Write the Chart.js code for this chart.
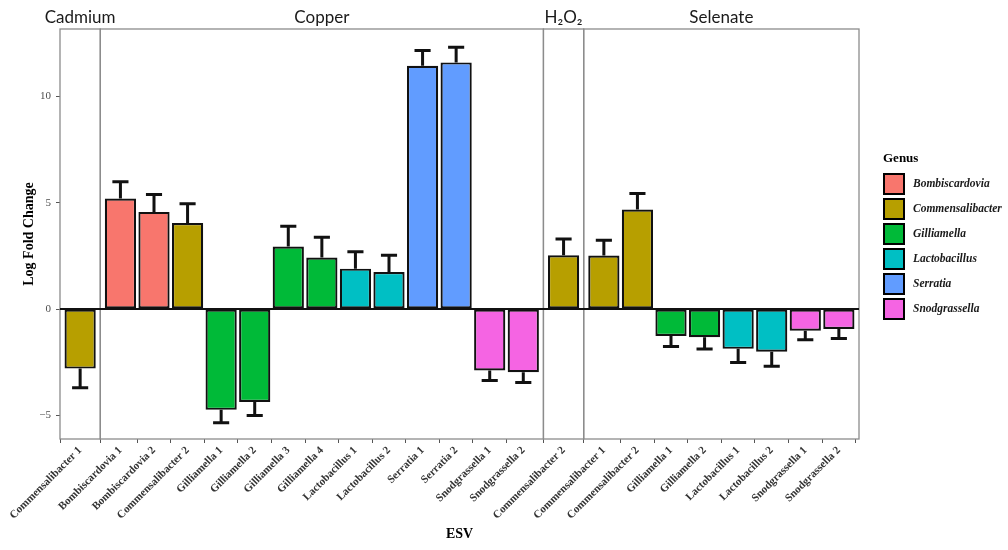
<!DOCTYPE html>
<html>
<head>
<meta charset="utf-8">
<script src="https://cdn.jsdelivr.net/npm/chart.js@4.4.1/dist/chart.umd.min.js"></script>
<style>
  html, body { margin: 0; padding: 0; background: #ffffff; }
  #wrap { width: 1008px; height: 550px; position: relative; }
</style>
</head>
<body>
<div id="wrap"><canvas id="chart"></canvas></div>
<script>
// Log fold change per ESV, grouped by treatment, with standard errors
const treatments = ['Cadmium', 'Copper', 'H\u2082O\u2082', 'Selenate'];

const cadmiumESV = ['Commensalibacter 1'];
const cadmiumLFC = [-2.80];
const cadmiumSE  = [0.90];

const copperESV = ['Bombiscardovia 1', 'Bombiscardovia 2', 'Commensalibacter 2',
  'Gilliamella 1', 'Gilliamella 2', 'Gilliamella 3', 'Gilliamella 4',
  'Lactobacillus 1', 'Lactobacillus 2', 'Serratia 1', 'Serratia 2',
  'Snodgrassella 1', 'Snodgrassella 2'];
const copperLFC = [5.20, 4.57, 4.05, -4.74, -4.37, 2.94, 2.42, 1.90, 1.74, 11.44, 11.60, -2.89, -2.97];
const copperSE  = [0.79, 0.82, 0.90, 0.61, 0.64, 0.96, 0.96, 0.80, 0.79, 0.72, 0.71, 0.47, 0.48];

const h2o2ESV = ['Commensalibacter 2'];
const h2o2LFC = [2.53];
const h2o2SE  = [0.77];

const selenateESV = ['Commensalibacter 1', 'Commensalibacter 2', 'Gilliamella 1', 'Gilliamella 2',
  'Lactobacillus 1', 'Lactobacillus 2', 'Snodgrassella 1', 'Snodgrassella 2'];
const selenateLFC = [2.52, 4.68, -1.27, -1.32, -1.87, -2.01, -1.02, -0.94];
const selenateSE  = [0.72, 0.76, 0.49, 0.56, 0.64, 0.68, 0.42, 0.44];

const genera = ['Bombiscardovia', 'Commensalibacter', 'Gilliamella', 'Lactobacillus', 'Serratia', 'Snodgrassella'];
const genusColors = ['#F8766D', '#B79F00', '#00BA38', '#00BFC4', '#619CFF', '#F564E3'];
const yTicks = [-5, 0, 5, 10];

// Panels laid side by side; each is as wide as its ESV count plus 0.6 on each side
const PANEL_PAD = 0.6;
const groups = [
  { esv: cadmiumESV,  lfc: cadmiumLFC,  se: cadmiumSE },
  { esv: copperESV,   lfc: copperLFC,   se: copperSE },
  { esv: h2o2ESV,     lfc: h2o2LFC,     se: h2o2SE },
  { esv: selenateESV, lfc: selenateLFC, se: selenateSE }
];

const points = [], tickLabels = [], tickPos = [], errors = [], fills = [], panels = [];
let cursor = 0;
groups.forEach((g, gi) => {
  const start = cursor;
  g.esv.forEach((name, i) => {
    const x = start + PANEL_PAD + i;
    const genus = name.replace(/\s+\d+$/, '');
    points.push({ x: x, y: g.lfc[i] });
    tickPos.push(x);
    tickLabels.push(name);
    errors.push(g.se[i]);
    fills.push(genusColors[genera.indexOf(genus)]);
  });
  cursor = start + g.esv.length - 1 + 2 * PANEL_PAD;
  panels.push({ name: treatments[gi], from: start, to: cursor });
});
const xMax = cursor;

const SERIF = "'Liberation Serif', 'Times New Roman', serif";

// Panel frames, strip labels, zero line, error bars and genus legend
const facetPlugin = {
  id: 'facets',
  beforeDatasetsDraw(chart) {
    const { ctx, chartArea: a, scales: { x } } = chart;
    ctx.save();
    ctx.strokeStyle = '#8c8c8c';
    ctx.lineWidth = 1.3;
    panels.forEach(p => {
      const l = x.getPixelForValue(p.from), r = x.getPixelForValue(p.to);
      ctx.strokeRect(l, a.top, r - l, a.bottom - a.top);
    });
    ctx.restore();
  },
  afterDatasetsDraw(chart) {
    const { ctx, chartArea: a, scales: { x, y } } = chart;
    const meta = chart.getDatasetMeta(0);
    ctx.save();
    // zero reference line
    const y0 = y.getPixelForValue(0);
    ctx.strokeStyle = '#111';
    ctx.lineWidth = 2;
    ctx.beginPath();
    ctx.moveTo(a.left, y0);
    ctx.lineTo(a.right, y0);
    ctx.stroke();
    // one-sided error bars pointing away from zero
    const half = x.getPixelForValue(0.24) - x.getPixelForValue(0);
    ctx.lineWidth = 3;
    ctx.lineCap = 'butt';
    meta.data.forEach((el, i) => {
      const v = points[i].y;
      const tip = y.getPixelForValue(v + Math.sign(v) * errors[i]);
      ctx.beginPath();
      ctx.moveTo(el.x, el.y);
      ctx.lineTo(el.x, tip);
      ctx.moveTo(el.x - half, tip);
      ctx.lineTo(el.x + half, tip);
      ctx.stroke();
    });
    ctx.restore();
  },
  afterDraw(chart) {
    const { ctx, chartArea: a, scales: { x } } = chart;
    ctx.save();
    // strip labels
    ctx.fillStyle = '#1a1a1a';
    ctx.font = "17px Lato, 'Open Sans', sans-serif";
    ctx.textAlign = 'center';
    ctx.textBaseline = 'middle';
    panels.forEach(p => {
      const cx = (x.getPixelForValue(p.from) + x.getPixelForValue(p.to)) / 2;
      ctx.fillText(p.name, cx, a.top - 11);
    });
    // legend
    const lx = a.right + 24, ly = 159;
    ctx.textAlign = 'left';
    ctx.fillStyle = '#000';
    ctx.font = 'bold 13px ' + SERIF;
    ctx.fillText('Genus', lx, ly);
    ctx.font = 'italic bold 11.5px ' + SERIF;
    genera.forEach((g, i) => {
      const top = ly + 14 + i * 25;
      ctx.fillStyle = genusColors[i];
      ctx.fillRect(lx, top, 22, 22);
      ctx.strokeStyle = '#000';
      ctx.lineWidth = 2;
      ctx.strokeRect(lx + 1, top + 1, 20, 20);
      ctx.fillStyle = '#1a1a1a';
      ctx.fillText(g, lx + 30, top + 11);
    });
    ctx.restore();
  }
};

new Chart(document.getElementById('chart'), {
  type: 'bar',
  data: {
    datasets: [{
      data: points,
      backgroundColor: fills,
      borderColor: '#111',
      borderWidth: 2.2,
      borderSkipped: false,
      categoryPercentage: 1,
      barPercentage: 0.93
    }]
  },
  options: {
    responsive: true,
    maintainAspectRatio: false,
    animation: false,
    layout: { padding: { top: 29, right: 149, bottom: 0, left: 0 } },
    plugins: { legend: { display: false }, tooltip: { enabled: false } },
    scales: {
      x: {
        type: 'linear',
        min: 0,
        max: xMax,
        offset: false,
        border: { display: false },
        grid: { drawOnChartArea: false, drawTicks: true, tickLength: 4, color: '#555', lineWidth: 1 },
        afterBuildTicks: s => { s.ticks = tickPos.map(v => ({ value: v })); },
        afterFit: s => { s.height = 111; },
        ticks: {
          autoSkip: false,
          minRotation: 45,
          maxRotation: 45,
          padding: 1,
          color: '#333',
          font: { family: SERIF, size: 11, weight: 'bold' },
          callback: (v, i) => tickLabels[i]
        },
        title: {
          display: true,
          text: 'ESV',
          color: '#000',
          font: { family: SERIF, size: 14, weight: 'bold' },
          padding: { top: 0, bottom: 7 }
        }
      },
      y: {
        min: -6.11,
        max: 13.17,
        border: { display: false },
        grid: { drawOnChartArea: false, drawTicks: true, tickLength: 4, color: '#555', lineWidth: 1 },
        afterBuildTicks: s => { s.ticks = yTicks.map(v => ({ value: v })); },
        afterFit: s => { s.width = 60; },
        ticks: {
          padding: 5,
          color: '#4d4d4d',
          font: { family: SERIF, size: 11 },
          callback: v => (v < 0 ? '\u2212' + Math.abs(v) : String(v))
        },
        title: {
          display: true,
          text: 'Log Fold Change',
          color: '#000',
          font: { family: SERIF, size: 14, weight: 'bold' },
          padding: { top: 21, bottom: 0 }
        }
      }
    }
  },
  plugins: [facetPlugin]
});
</script>
</body>
</html>
